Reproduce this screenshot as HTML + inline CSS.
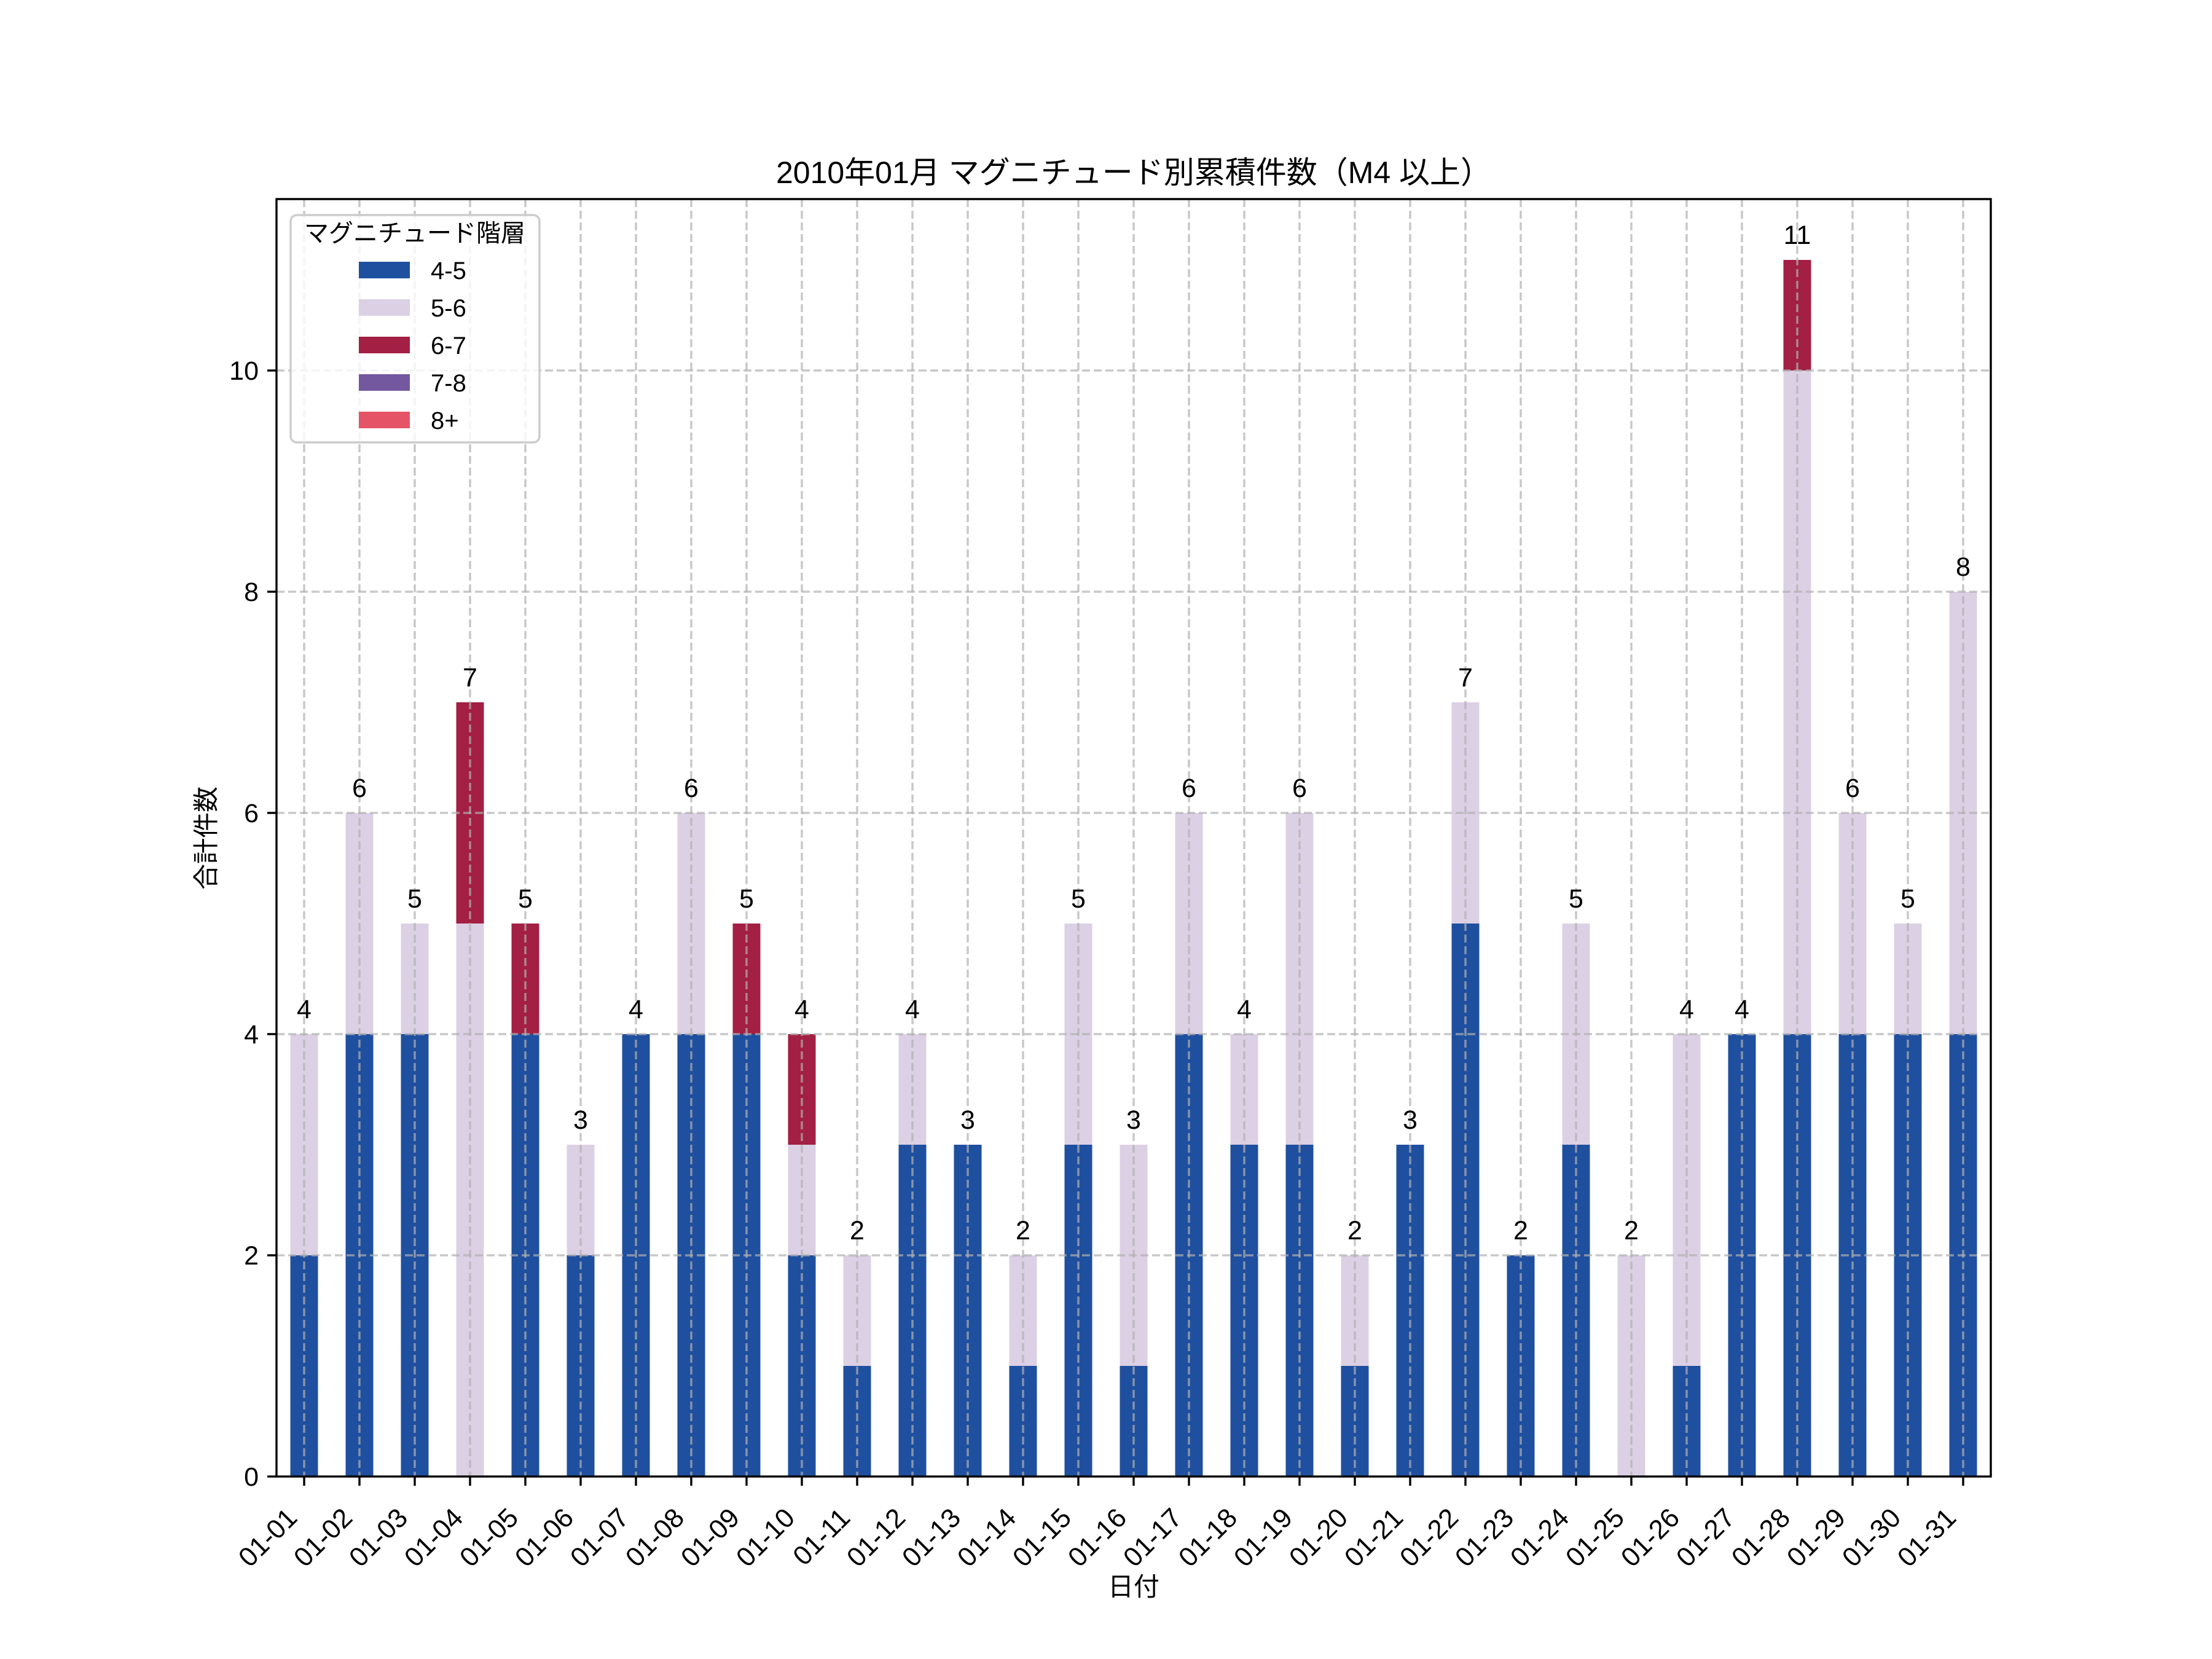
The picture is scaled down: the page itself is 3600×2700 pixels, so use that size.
<!DOCTYPE html>
<html><head><meta charset="utf-8"><style>
html,body{margin:0;padding:0;background:#fff;}
svg{display:block;}
text{font-family:"Liberation Sans","Noto Sans CJK JP",sans-serif;fill:#000;}
</style></head><body>
<svg id="s" width="3600" height="2700" viewBox="0 0 3600 2700" xmlns="http://www.w3.org/2000/svg">
<rect width="3600" height="2700" fill="#fff"/>
<g id="bars"></g>
<g id="grid" stroke="#b0b0b0" stroke-opacity="0.7" stroke-width="3.5" stroke-dasharray="13,6"></g>
<g id="labels" font-size="43" text-anchor="middle"></g>
<rect x="450" y="324" width="2790" height="2079" fill="none" stroke="#000" stroke-width="3.4"/>
<g id="ticks" stroke="#000" stroke-width="3.4"></g>
<g id="tl" font-size="44"></g>
<g id="yl" font-size="43"></g>
<text x="1845" y="298" font-size="50" text-anchor="middle">2010年01月 マグニチュード別累積件数（M4 以上）</text>
<text x="1845" y="2597" font-size="42" text-anchor="middle">日付</text>
<text transform="translate(350,1364) rotate(-90)" font-size="42" text-anchor="middle">合計件数</text>
<g>
<rect x="473" y="350" width="405" height="370" rx="10" fill="#fff" fill-opacity="0.8" stroke="#cccccc" stroke-width="3.4"/>
<text x="675" y="393" font-size="40" text-anchor="middle">マグニチュード階層</text>
<rect x="584" y="426" width="83" height="27" fill="#1f4f9f"/>
<rect x="584" y="487" width="83" height="27" fill="#dcd0e5"/>
<rect x="584" y="548" width="83" height="27" fill="#a31f43"/>
<rect x="584" y="609" width="83" height="27" fill="#7358a0"/>
<rect x="584" y="670" width="83" height="27" fill="#e55466"/>
<text x="701" y="454" font-size="40">4-5</text>
<text x="701" y="515" font-size="40">5-6</text>
<text x="701" y="576" font-size="40">6-7</text>
<text x="701" y="637" font-size="40">7-8</text>
<text x="701" y="698" font-size="40">8+</text>
</g>
</svg>
<script>
var d=[[2,2,0],[4,2,0],[4,1,0],[0,5,2],[4,0,1],[2,1,0],[4,0,0],[4,2,0],[4,0,1],[2,1,1],[1,1,0],[3,1,0],[3,0,0],[1,1,0],[3,2,0],[1,2,0],[4,2,0],[3,1,0],[3,3,0],[1,1,0],[3,0,0],[5,2,0],[2,0,0],[3,2,0],[0,2,0],[1,3,0],[4,0,0],[4,6,1],[4,2,0],[4,1,0],[4,4,0]];
var cols=["#1f4f9f","#dcd0e5","#a31f43"];
var NS="http://www.w3.org/2000/svg";
function el(p,t,a,txt){var e=document.createElementNS(NS,t);for(var k in a)e.setAttribute(k,a[k]);if(txt!==undefined)e.textContent=txt;document.getElementById(p).appendChild(e);return e;}
var y0=2403,u=180,L=450,W=90;
for(var i=0;i<31;i++){
 var cx=L+W/2+i*W,acc=0;
 for(var j=0;j<3;j++){var v=d[i][j];if(v>0){el("bars","rect",{x:cx-22.5,y:y0-(acc+v)*u,width:45,height:v*u,fill:cols[j]});}acc+=v;}
 el("grid","line",{x1:cx,y1:324,x2:cx,y2:y0});
 el("labels","text",{x:cx,y:y0-acc*u-26},String(acc));
 el("ticks","line",{x1:cx,y1:y0,x2:cx,y2:y0+15});
 var dd=(i+1<10?"0":"")+(i+1);
 el("tl","text",{transform:"translate("+(cx-9)+","+(y0+70)+") rotate(-45)","text-anchor":"end"},"01-"+dd);
}
for(var k=0;k<=10;k+=2){var y=y0-k*u;
 if(k>0)el("grid","line",{x1:450,y1:y,x2:3240,y2:y});
 el("ticks","line",{x1:435,y1:y,x2:450,y2:y});
 el("yl","text",{x:421,y:y+15,"text-anchor":"end"},String(k));
}
</script>
</body></html>
